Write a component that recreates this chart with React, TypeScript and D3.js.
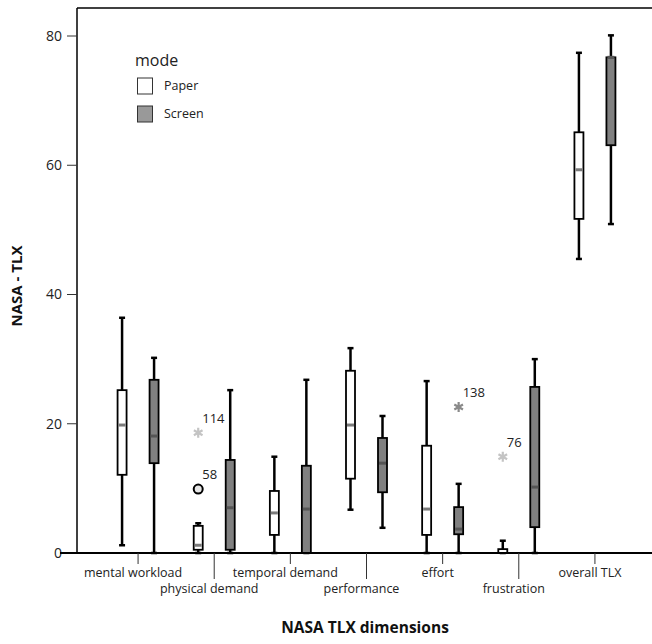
import React from "react";
import * as d3 from "d3";

const categories = [
  "mental workload",
  "physical demand",
  "temporal demand",
  "performance",
  "effort",
  "frustration",
  "overall TLX",
];
const modes = ["Paper", "Screen"];
const yTicks = [0, 20, 40, 60, 80];

// [whiskerLow, q1, median, q3, whiskerHigh] per category
const paperStats = [
  [1.2, 12.1, 19.8, 25.2, 36.4],
  [0, 0.5, 1.2, 4.2, 4.6],
  [0, 2.8, 6.2, 9.6, 14.9],
  [6.7, 11.5, 19.8, 28.2, 31.7],
  [0, 2.8, 6.8, 16.6, 26.6],
  [0, 0, 0, 0.6, 1.9],
  [45.5, 51.7, 59.3, 65.1, 77.4],
];
const screenStats = [
  [0, 13.9, 18.1, 26.8, 30.2],
  [0, 0.5, 7.0, 14.4, 25.2],
  [0, 0, 6.8, 13.5, 26.8],
  [3.9, 9.4, 13.9, 17.8, 21.2],
  [0, 2.9, 3.7, 7.1, 10.7],
  [0, 4.0, 10.2, 25.7, 30.0],
  [50.9, 63.1, 76.7, 76.7, 80.1],
];

const outliers = [
  { cat: "physical demand", mode: "Paper", value: 18.6, label: "114", kind: "star", color: "#c4c4c4" },
  { cat: "physical demand", mode: "Paper", value: 9.9, label: "58", kind: "circle", color: "#e6e6e6" },
  { cat: "effort", mode: "Screen", value: 22.6, label: "138", kind: "star", color: "#8a8a8a" },
  { cat: "frustration", mode: "Paper", value: 14.9, label: "76", kind: "star", color: "#c4c4c4" },
];

const font = "'Open Sans', 'Noto Sans', sans-serif";

export default function App() {
  const width = 652;
  const height = 644;
  const left = 77;
  const top = 8;
  const bottom = 553;

  const y = d3.scaleLinear().domain([0, 80]).range([bottom, 36]);
  const x = d3.scaleBand<string>().domain(categories).range([100, 633]);
  const bw = x.bandwidth();
  const xm = d3
    .scaleBand<string>()
    .domain(modes)
    .range([bw / 2 - 32, bw / 2 + 32]);

  const boxW = 9;
  const capW = 6;
  const star = d3.symbol().type(d3.symbolAsterisk).size(70)();

  const drawBox = (stats: number[], cat: string, mode: string) => {
    const cx = (x(cat) as number) + (xm(mode) as number) + xm.bandwidth() / 2;
    const [lo, q1, med, q3, hi] = stats;
    const fill = mode === "Paper" ? "#ffffff" : "#808080";
    const medColor = mode === "Paper" ? "#7a7a7a" : "#555555";
    const boxH = Math.max(y(q1) - y(q3), 2);
    return (
      <g key={cat + mode}>
        <line x1={cx} x2={cx} y1={y(lo)} y2={y(hi)} stroke="#000" strokeWidth={2.5} />
        <line x1={cx - capW / 2} x2={cx + capW / 2} y1={y(hi)} y2={y(hi)} stroke="#000" strokeWidth={2.5} />
        <line x1={cx - capW / 2} x2={cx + capW / 2} y1={y(lo)} y2={y(lo)} stroke="#000" strokeWidth={2.5} />
        <rect x={cx - boxW / 2} y={y(q3)} width={boxW} height={boxH} fill={fill} stroke="#000" strokeWidth={1.8} />
        {med > 0 && (
          <line x1={cx - boxW / 2 + 1} x2={cx + boxW / 2 - 1} y1={y(med)} y2={y(med)} stroke={medColor} strokeWidth={3} />
        )}
      </g>
    );
  };

  return (
    <svg width={width} height={height} style={{ position: "absolute", left: 0, top: 0, background: "#fff" }}>
      {/* frame */}
      <line x1={left} x2={width} y1={top} y2={top} stroke="#000" strokeWidth={1.5} />
      <line x1={left} x2={left} y1={top} y2={bottom} stroke="#000" strokeWidth={1.5} />

      {/* y axis */}
      {yTicks.map((t) => (
        <g key={t}>
          <line x1={67} x2={left} y1={y(t)} y2={y(t)} stroke="#333" strokeWidth={1} />
          <text x={62} y={y(t)} dy="0.35em" textAnchor="end" fontFamily={font} fontSize={14} fill="#222">
            {t}
          </text>
        </g>
      ))}
      <text
        transform={`translate(22,${286}) rotate(-90)`}
        textAnchor="middle"
        fontFamily={font}
        fontSize={15}
        fontWeight="bold"
        fill="#111"
      >
        NASA - TLX
      </text>

      {/* boxes */}
      {categories.map((c, i) => drawBox(paperStats[i], c, "Paper"))}
      {categories.map((c, i) => drawBox(screenStats[i], c, "Screen"))}

      {/* outliers */}
      {outliers.map((o) => {
        const cx = (x(o.cat) as number) + (xm(o.mode) as number) + xm.bandwidth() / 2;
        const cy = y(o.value);
        return (
          <g key={o.label}>
            {o.kind === "circle" ? (
              <circle cx={cx} cy={cy} r={4.5} fill={o.color} stroke="#000" strokeWidth={2} />
            ) : (
              <path d={star as string} transform={`translate(${cx},${cy})`} fill="none" stroke={o.color} strokeWidth={2.2} />
            )}
            <text x={cx + 4} y={cy - 10} fontFamily={font} fontSize={13} fill="#222">
              {o.label}
            </text>
          </g>
        );
      })}

      {/* x axis */}
      <line x1={60} x2={width} y1={bottom} y2={bottom} stroke="#000" strokeWidth={2} />
      {categories.map((c, i) => {
        const cx = (x(c) as number) + bw / 2;
        const row2 = i % 2 === 1;
        return (
          <g key={c}>
            <line x1={cx} x2={cx} y1={bottom} y2={bottom + (row2 ? 26 : 11)} stroke="#333" strokeWidth={1} />
            <text x={cx - 5} y={row2 ? 593 : 577} textAnchor="middle" fontFamily={font} fontSize={12.5} fill="#222">
              {c}
            </text>
          </g>
        );
      })}
      <text x={365} y={633} textAnchor="middle" fontFamily={font} fontSize={15.5} fontWeight="bold" fill="#111">
        NASA TLX dimensions
      </text>

      {/* legend */}
      <text x={135} y={66} fontFamily={font} fontSize={16} fill="#222">
        mode
      </text>
      {modes.map((m, i) => (
        <g key={m}>
          <rect
            x={137.5}
            y={78 + i * 28}
            width={15}
            height={16}
            fill={m === "Paper" ? "#fff" : "#999"}
            stroke="#333"
            strokeWidth={1}
          />
          <text x={164} y={86 + i * 28} dy="0.35em" fontFamily={font} fontSize={12.5} fill="#222">
            {m}
          </text>
        </g>
      ))}
    </svg>
  );
}
